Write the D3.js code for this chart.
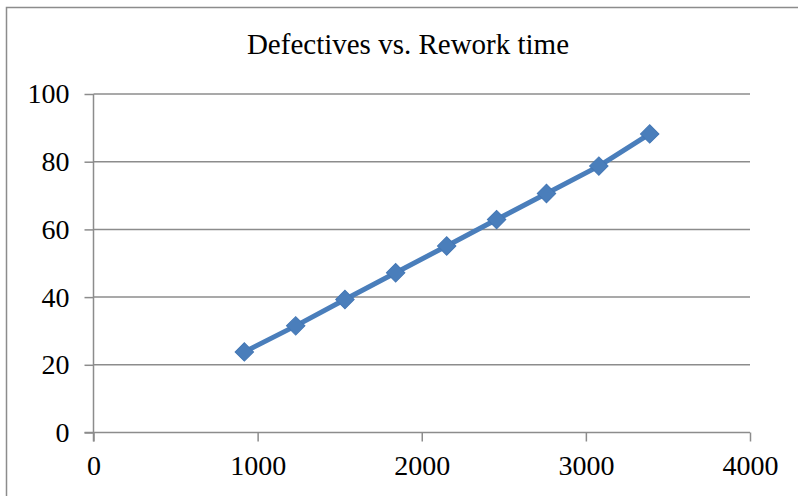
<!DOCTYPE html>
<html>
<head>
<meta charset="utf-8">
<script src="https://cdn.jsdelivr.net/npm/d3@7"></script>
<style>
  body { margin: 0; background: #fff; }
  svg { display: block; font-family: "Liberation Serif", "Times New Roman", serif; }
</style>
</head>
<body>
<svg id="chart" width="798" height="496"></svg>
<script>
// Rework time (x) and defectives (y)
const reworkTime = [919, 1232, 1532, 1841, 2152, 2456, 2760, 3079, 3389];
const defectives = [23.8, 31.5, 39.3, 47.2, 55.1, 62.9, 70.6, 78.7, 88.2];
const xTicks = [0, 1000, 2000, 3000, 4000];
const yTicks = [0, 20, 40, 60, 80, 100];
const title = "Defectives vs. Rework time";

const svg = d3.select("#chart");

// outer chart frame (runs off the right and bottom edges)
svg.append("rect")
  .attr("x", 6.5).attr("y", 7.5)
  .attr("width", 900).attr("height", 600)
  .attr("fill", "#fff")
  .attr("stroke", "#8c8c8c")
  .attr("stroke-width", 1.5);

// title
svg.append("text")
  .attr("x", 408)
  .attr("y", 54)
  .attr("text-anchor", "middle")
  .attr("font-size", 29)
  .attr("fill", "#000")
  .text(title);

// scales
const xScale = d3.scaleLinear().domain([0, 4000]).range([93.5, 750]);
const yScale = d3.scaleLinear().domain([0, 100]).range([432.5, 94]);

const gridColor = "#8c8c8c";

// horizontal gridlines
svg.append("g")
  .selectAll("line")
  .data(yTicks.filter((d) => d > 0))
  .join("line")
  .attr("x1", xScale(0))
  .attr("x2", xScale(4000))
  .attr("y1", (d) => yScale(d))
  .attr("y2", (d) => yScale(d))
  .attr("stroke", gridColor)
  .attr("stroke-width", 1.5);

// y axis
const yAxis = svg.append("g")
  .attr("transform", `translate(${xScale(0)},0)`)
  .call(d3.axisLeft(yScale).tickValues(yTicks).tickFormat(d3.format("d"))
    .tickSize(9).tickPadding(15));

// x axis
const xAxis = svg.append("g")
  .attr("transform", `translate(0,${yScale(0)})`)
  .call(d3.axisBottom(xScale).tickValues(xTicks).tickFormat(d3.format("d"))
    .tickSize(9).tickPadding(14));

[xAxis, yAxis].forEach((ax) => {
  ax.select(".domain").attr("stroke", gridColor).attr("stroke-width", 1.5);
  ax.selectAll(".tick line").attr("stroke", gridColor).attr("stroke-width", 1.5);
  ax.selectAll(".tick text")
    .attr("fill", "#000")
    .attr("font-size", 28)
    .attr("font-family", "Liberation Serif, Times New Roman, serif");
});
// axis lines run a little past zero, like the reference
yAxis.select(".domain").attr("d", `M0,${yScale(100)}V${yScale(0) + 9}`);
xAxis.select(".domain").attr("d", `M${xScale(0) - 9},0H${xScale(4000)}`);

// series
const points = reworkTime.map((x, i) => ({ x: x, y: defectives[i] }));
const line = d3.line()
  .x((d) => xScale(d.x))
  .y((d) => yScale(d.y));

svg.append("path")
  .datum(points)
  .attr("d", line)
  .attr("fill", "none")
  .attr("stroke", "#4a7ebb")
  .attr("stroke-width", 5)
  .attr("stroke-linejoin", "round");

const diamond = d3.symbol().type(d3.symbolSquare).size(170);
svg.append("g")
  .selectAll("path")
  .data(points)
  .join("path")
  .attr("d", diamond)
  .attr("transform", (d) => `translate(${xScale(d.x)},${yScale(d.y)}) rotate(45)`)
  .attr("fill", "#4a7ebb")
  .attr("stroke", "#4477b5")
  .attr("stroke-width", 1);
</script>
</body>
</html>
